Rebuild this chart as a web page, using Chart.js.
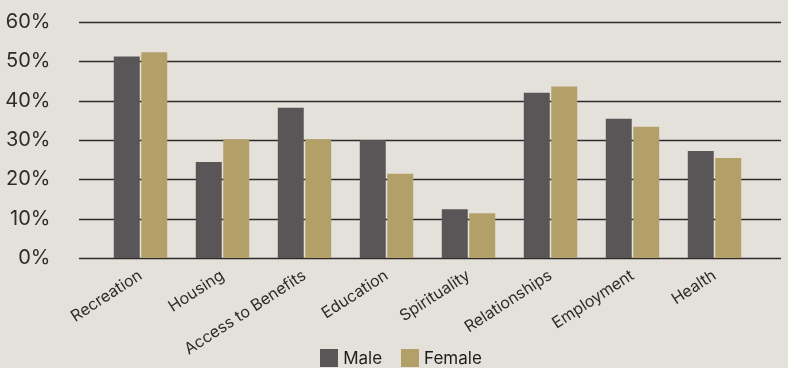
<!DOCTYPE html>
<html>
<head>
<meta charset="utf-8">
<script src="https://cdn.jsdelivr.net/npm/chart.js@4/dist/chart.umd.min.js"></script>
<style>
  html, body { margin: 0; padding: 0; background: #e4e1da; }
  #wrap { width: 788px; height: 368px; position: relative; }
  #legend {
    position: absolute; left: 0; right: 0; top: 349px;
    display: flex; justify-content: center; gap: 19px;
    font-family: Inter, sans-serif; font-size: 17px; color: #1f1c1c;
    padding-left: 14px;
  }
  #legend span.item { display: flex; align-items: center; gap: 5px; height: 18px; }
  #legend span.box { width: 18px; height: 18px; display: inline-block; }
</style>
</head>
<body>
<div id="wrap"><canvas id="chart"></canvas><div id="legend"></div></div>
<script>
const categories = ['Recreation', 'Housing', 'Access to Benefits', 'Education', 'Spirituality', 'Relationships', 'Employment', 'Health'];
const maleValues = [51.2, 24.4, 38.2, 30.0, 12.4, 42.0, 35.4, 27.2];
const femaleValues = [52.3, 30.2, 30.2, 21.4, 11.4, 43.6, 33.4, 25.4];
const yTicks = [0, 10, 20, 30, 40, 50, 60];

const colors = {
  male: '#5a5657',
  female: '#b3a068',
  grid: '#2e2a2a',
  text: '#2f2b2b',
};

// horizontal rules run a bit wider than the bar area
const wideGrid = {
  id: 'wideGrid',
  beforeDatasetsDraw(chart) {
    const { ctx, chartArea, scales } = chart;
    ctx.save();
    ctx.strokeStyle = colors.grid;
    ctx.lineWidth = 1.6;
    yTicks.forEach((v) => {
      const y = Math.round(scales.y.getPixelForValue(v)) + 0.5;
      ctx.beginPath();
      ctx.moveTo(chartArea.left - 20.5, y);
      ctx.lineTo(chartArea.right + 25.5, y);
      ctx.stroke();
    });
    ctx.restore();
  },
};

const chart = new Chart(document.getElementById('chart'), {
  type: 'bar',
  data: {
    labels: categories,
    datasets: [
      {
        label: 'Male',
        data: maleValues,
        backgroundColor: colors.male,
        categoryPercentage: 0.67,
        barPercentage: 0.945,
      },
      {
        label: 'Female',
        data: femaleValues,
        backgroundColor: colors.female,
        categoryPercentage: 0.67,
        barPercentage: 0.945,
      },
    ],
  },
  options: {
    responsive: true,
    maintainAspectRatio: false,
    animation: false,
    layout: { padding: { top: 22, right: 32.5, left: 0, bottom: 10 } },
    plugins: {
      legend: { display: false },
      tooltip: { enabled: false },
    },
    scales: {
      x: {
        grid: { display: false },
        border: { display: false },
        ticks: {
          maxRotation: 33,
          minRotation: 33,
          padding: 0,
          color: colors.text,
          font: { family: 'Inter', size: 16 },
        },
        afterFit(scale) {
          scale.height = 100;
          scale.paddingLeft = 0;
          scale.paddingRight = 0;
        },
      },
      y: {
        min: 0,
        max: 60,
        grid: { display: false },
        border: { display: false },
        ticks: {
          stepSize: 10,
          padding: 41,
          color: colors.text,
          font: { family: 'Inter', size: 20 },
          callback: (v) => v + '%',
        },
        afterFit(scale) {
          scale.width = 99.5;
          scale.paddingTop = 10;
          scale.paddingBottom = 10;
        },
      },
    },
  },
  plugins: [wideGrid],
});

// legend as plain html so it can sit over the rotated labels
const legendEl = document.getElementById('legend');
chart.data.datasets.forEach((ds) => {
  const item = document.createElement('span');
  item.className = 'item';
  const box = document.createElement('span');
  box.className = 'box';
  box.style.background = ds.backgroundColor;
  item.appendChild(box);
  item.appendChild(document.createTextNode(ds.label));
  legendEl.appendChild(item);
});
</script>
</body>
</html>
